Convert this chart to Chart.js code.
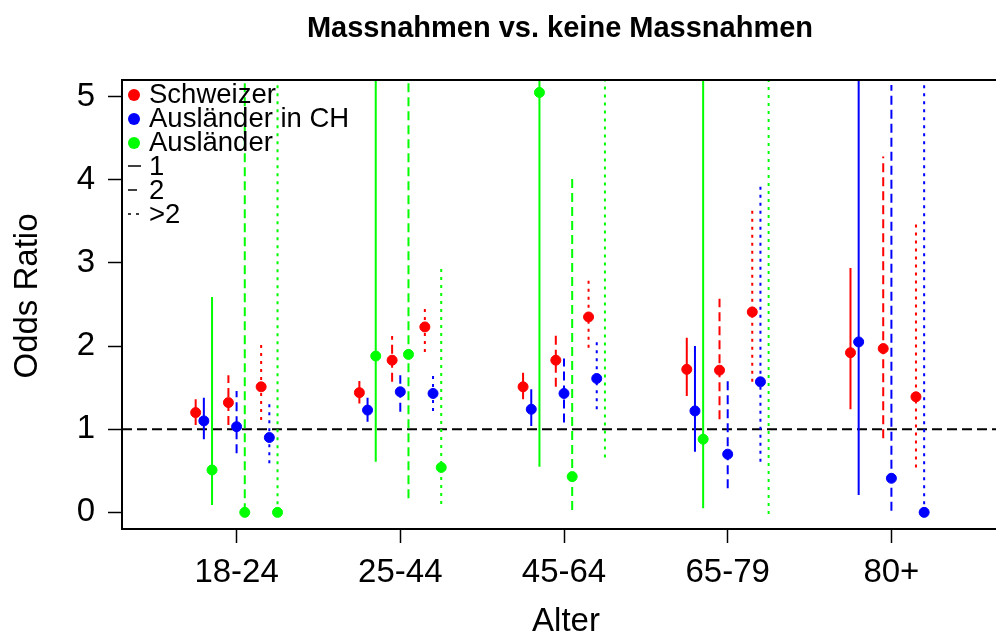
<!DOCTYPE html>
<html>
<head>
<meta charset="utf-8">
<script src="https://cdn.jsdelivr.net/npm/chart.js@4"></script>
<style>
  html, body { margin: 0; padding: 0; background: #fff; overflow: hidden; }
</style>
</head>
<body>
<canvas id="chart" width="1012" height="635"></canvas>
<script>
const categories = ['18-24', '25-44', '45-64', '65-79', '80+'];
const groups = ['Schweizer', 'Ausländer in CH', 'Ausländer'];
const levels = ['1', '2', '>2'];
const oddsTicks = [0, 1, 2, 3, 4, 5];

// rows: level 1, 2, >2 -- columns: age classes
const schweizerOR = [
  [1.20, 1.44, 1.51, 1.72, 1.92],
  [1.32, 1.83, 1.83, 1.71, 1.97],
  [1.51, 2.23, 2.35, 2.41, 1.39]
];
const schweizerLo = [
  [1.05, 1.31, 1.36, 1.40, 1.24],
  [1.05, 1.57, 1.51, 1.12, 0.89],
  [1.11, 1.93, 1.98, 1.57, 0.54]
];
const schweizerHi = [
  [1.36, 1.58, 1.68, 2.10, 2.94],
  [1.65, 2.12, 2.13, 2.57, 4.28],
  [2.02, 2.47, 2.79, 3.68, 3.51]
];

const auslCHOR = [
  [1.10, 1.23, 1.24, 1.22, 2.05],
  [1.03, 1.45, 1.43, 0.70, 0.41],
  [0.90, 1.43, 1.61, 1.57, 0.00]
];
const auslCHLo = [
  [0.88, 1.09, 1.04, 0.73, 0.21],
  [0.71, 1.21, 1.08, 0.29, 0.02],
  [0.59, 1.22, 1.24, 0.61, 0.00]
];
const auslCHHi = [
  [1.38, 1.38, 1.48, 2.00, 6.80],
  [1.46, 1.65, 1.85, 1.61, 5.14],
  [1.32, 1.68, 2.05, 3.93, 5.17]
];

const auslOR = [
  [0.51, 1.88, 5.05, 0.88, null],
  [0.00, 1.90, 0.43, null, null],
  [0.00, 0.54, 5.60, 5.50, null]
];
const auslLo = [
  [0.09, 0.61, 0.55, 0.05, null],
  [0.00, 0.17, 0.03, null, null],
  [0.00, 0.10, 0.66, -0.02, null]
];
const auslHi = [
  [2.59, 7.50, 9.00, 8.50, null],
  [8.00, 7.00, 4.06, null, null],
  [8.00, 2.96, 9.50, 9.00, null]
];

const orSeries = [schweizerOR, auslCHOR, auslOR];
const loSeries = [schweizerLo, auslCHLo, auslLo];
const hiSeries = [schweizerHi, auslCHHi, auslHi];

const colors = ['#FF0000', '#0000FF', '#00FF00'];
const dashes = [[], [9, 5], [3, 5]];
const levelShift = [-0.2, 0, 0.2];
const groupShift = [-0.05, 0, 0.05];
const FONT = "'Liberation Sans', Arial, sans-serif";

const datasets = [];
groups.forEach((name, g) => {
  levels.forEach((lev, l) => {
    const pts = [];
    const segs = [];
    categories.forEach((c, i) => {
      const x = i + 1 + levelShift[l] + groupShift[g];
      const v = orSeries[g][l][i];
      const lo = loSeries[g][l][i];
      const hi = hiSeries[g][l][i];
      if (v !== null) pts.push({ x: x, y: v });
      if (lo !== null && hi !== null) segs.push({ x: x, y: lo }, { x: x, y: hi }, { x: x, y: null });
    });
    datasets.push({
      type: 'scatter',
      label: name + ' ' + lev,
      data: pts,
      order: 0,
      clip: 0,
      pointRadius: 5,
      pointBackgroundColor: colors[g],
      pointBorderColor: colors[g],
      pointBorderWidth: 1
    });
    datasets.push({
      type: 'line',
      label: name + ' ' + lev + ' KI',
      data: segs,
      order: 1,
      clip: 0,
      borderColor: colors[g],
      borderWidth: 2,
      borderDash: dashes[l],
      borderCapStyle: 'butt',
      pointRadius: 0,
      spanGaps: false,
      fill: false
    });
  });
});

// reference line at OR = 1
datasets.push({
  type: 'line',
  data: [{ x: 0.3, y: 1 }, { x: 5.7, y: 1 }],
  order: 2,
  clip: 0,
  borderColor: '#000',
  borderWidth: 2,
  borderDash: [10, 5],
  pointRadius: 0
});

const decorations = {
  id: 'decorations',
  afterDatasetsDraw(chart) {
    const { ctx, chartArea: a } = chart;
    ctx.save();
    ctx.strokeStyle = '#000';
    ctx.lineWidth = 2;
    ctx.strokeRect(a.left, a.top, a.right - a.left, a.bottom - a.top);
    ctx.restore();
  },
  afterDraw(chart) {
    const { ctx } = chart;
    ctx.save();
    ctx.fillStyle = '#000';

    ctx.font = 'bold 29px ' + FONT;
    ctx.textAlign = 'center';
    ctx.textBaseline = 'alphabetic';
    ctx.fillText('Massnahmen vs. keine Massnahmen', 560, 37);

    ctx.font = '33px ' + FONT;
    ctx.fillText('Alter', 566, 631);

    ctx.save();
    ctx.translate(37, 296);
    ctx.rotate(-Math.PI / 2);
    ctx.fillText('Odds Ratio', 0, 0);
    ctx.restore();

    // legend
    const rowY = [95, 119, 143, 167, 191, 215];
    ctx.font = '27.5px ' + FONT;
    ctx.textAlign = 'left';
    ctx.textBaseline = 'middle';
    groups.forEach((name, g) => {
      ctx.fillStyle = colors[g];
      ctx.beginPath();
      ctx.arc(134, rowY[g], 6, 0, Math.PI * 2);
      ctx.fill();
      ctx.fillStyle = '#000';
      ctx.fillText(name, 149, rowY[g]);
    });
    levels.forEach((lev, l) => {
      const y = rowY[3 + l] - 1;
      ctx.strokeStyle = '#000';
      ctx.lineWidth = 1.5;
      ctx.setLineDash(dashes[l]);
      ctx.beginPath();
      ctx.moveTo(128, y);
      ctx.lineTo(141, y);
      ctx.stroke();
      ctx.setLineDash([]);
      ctx.fillStyle = '#000';
      ctx.fillText(lev, 149, rowY[3 + l]);
    });
    ctx.restore();
  }
};

new Chart(document.getElementById('chart'), {
  type: 'scatter',
  data: { datasets: datasets },
  options: {
    responsive: false,
    animation: false,
    devicePixelRatio: 1,
    layout: { padding: { top: 80, left: 0, right: 0, bottom: 0 } },
    plugins: {
      legend: { display: false },
      title: { display: false },
      tooltip: { enabled: false }
    },
    scales: {
      x: {
        type: 'linear',
        min: 0.3,
        max: 5.7,
        afterBuildTicks: s => { s.ticks = categories.map((c, i) => ({ value: i + 1 })); },
        afterFit: s => { s.height = 106; },
        ticks: {
          callback: v => categories[v - 1],
          color: '#000',
          font: { family: FONT, size: 33 },
          padding: 10,
          autoSkip: false,
          maxRotation: 0
        },
        grid: { drawOnChartArea: false, tickLength: 14, tickColor: '#000', tickWidth: 1.5 },
        border: { display: true, color: '#000', width: 2 }
      },
      y: {
        type: 'linear',
        min: -0.2,
        max: 5.2,
        afterBuildTicks: s => { s.ticks = oddsTicks.map(v => ({ value: v })); },
        afterFit: s => { s.width = 122; },
        ticks: {
          color: '#000',
          font: { family: FONT, size: 33 },
          padding: 13
        },
        grid: { drawOnChartArea: false, tickLength: 14, tickColor: '#000', tickWidth: 1.5 },
        border: { display: true, color: '#000', width: 2 }
      }
    }
  },
  plugins: [decorations]
});
</script>
</body>
</html>
